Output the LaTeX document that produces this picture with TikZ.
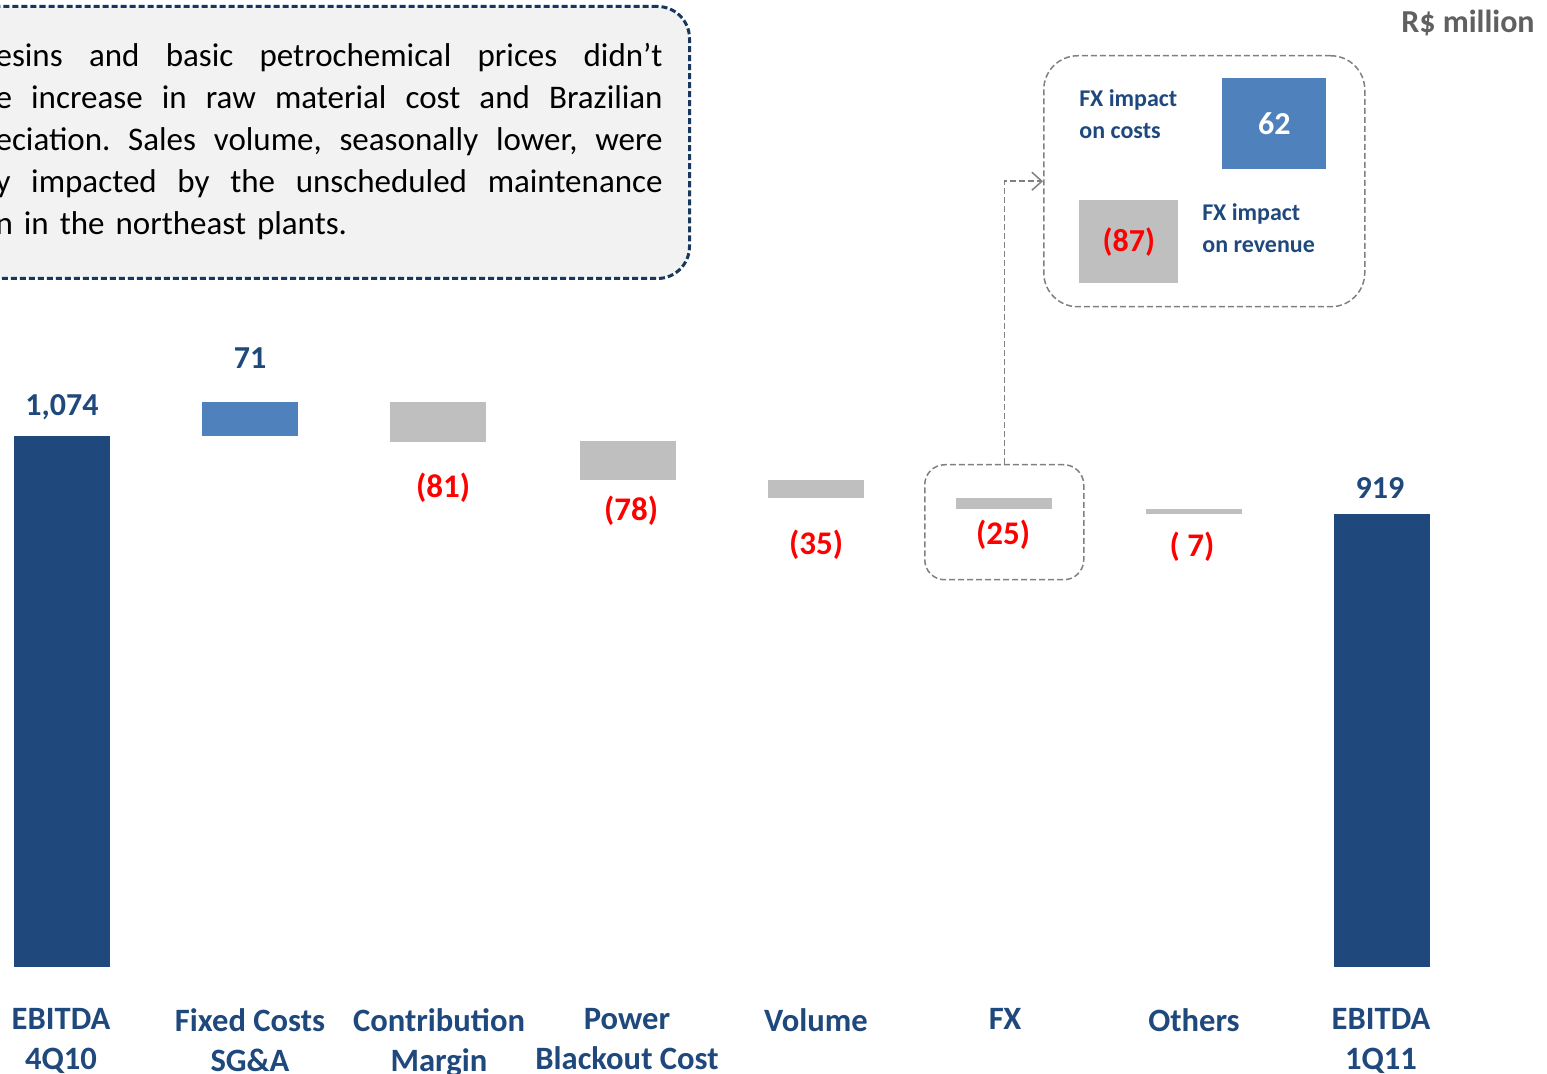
\documentclass[tikz,border=0pt]{standalone}
\usepackage{fontspec}
\setmainfont{Carlito}
\usepackage{xcolor}
\usetikzlibrary{arrows.meta,positioning}

\definecolor{navybar}{RGB}{31,73,125}
\definecolor{lightbar}{RGB}{79,129,189}
\definecolor{greybar}{RGB}{191,191,191}
\definecolor{notefill}{RGB}{242,242,242}
\definecolor{noteline}{RGB}{23,55,94}
\definecolor{dashgrey}{RGB}{128,128,128}
\definecolor{unitgrey}{RGB}{96,96,96}

\newcommand{\fullline}[1]{\hbox to 333.5pt{\frenchspacing\spaceskip=0.226em plus 1fil\relax #1}}

\begin{document}
\begin{tikzpicture}[x=0.5pt, y=-0.5pt,
  bar/.style={minimum width=48pt, inner sep=0, anchor=north west},
  posval/.style={font=\bfseries\fontsize{16}{19}\selectfont, text=navybar},
  negval/.style={font=\bfseries\fontsize{16.5}{19}\selectfont, text=red},
  catlabel/.style={font=\bfseries\fontsize{16.3}{20}\selectfont, text=navybar, align=center, anchor=north, inner sep=0},
  greybox/.style={draw=dashgrey, dashed, dash pattern=on 3pt off 1.5pt, line width=0.75pt, inner sep=0, anchor=north west},
  fxtext/.style={font=\bfseries\fontsize{12}{16}\selectfont, text=navybar, align=left, anchor=north west, inner sep=0}]
\useasboundingbox (0,0) rectangle (1547,1074);
%note box, cut at the left edge
\node[draw=noteline, fill=notefill, line width=1.5pt, dash pattern=on 3pt off 1.5pt, rounded corners=16pt,
  minimum width=364pt, minimum height=136pt, inner sep=0, anchor=north west] (note) at (-40,5) {};
\node[text width=333.5pt, inner sep=0, anchor=north east, font=\fontsize{16.5}{21}\selectfont] (notetext) at (663,43)
  {\fullline{esins and basic petrochemical prices didn’t}
   \fullline{e increase in raw material cost and Brazilian}
   \fullline{eciation. Sales volume, seasonally lower, were}
   \fullline{y impacted by the unscheduled maintenance}
   \hbox{n in the northeast plants.}};
\node[anchor=east, inner sep=0, text=unitgrey, font=\bfseries\fontsize{16}{19}\selectfont] (unit) at (1535,23) {R\$ million};
%bars
\node[bar, fill=navybar, minimum height=265.5pt] (b1) at (14,436) {};
\node[bar, fill=lightbar, minimum height=17pt] (b2) at (202,402) {};
\node[bar, fill=greybar, minimum height=20pt] (b3) at (390,402) {};
\node[bar, fill=greybar, minimum height=19.5pt] (b4) at (580,441) {};
\node[bar, fill=greybar, minimum height=9pt] (b5) at (768,480) {};
\node[bar, fill=greybar, minimum height=5.5pt] (b6) at (956,498) {};
\node[bar, fill=greybar, minimum height=2.5pt] (b7) at (1146,509) {};
\node[bar, fill=navybar, minimum height=226.5pt] (b8) at (1334,514) {};
%values
\node[posval] (v1) at (62,407) {1,074};
\node[posval] (v2) at (250,358) {71};
\node[negval] (v3) at (443,488) {(81)};
\node[negval] (v4) at (631,511) {(78)};
\node[negval] (v5) at (816,545) {(35)};
\node[negval] (v6) at (1003,535) {(25)};
\node[negval] (v7) at (1192,547) {( 7)};
\node[posval] (v8) at (1380,488) {919};
%categories
\node[catlabel] (c1) at (61,1008) {EBITDA\\4Q10};
\node[catlabel] (c2) at (250,1008) {Fixed Costs\\SG\&A};
\node[catlabel] (c3) at (439,1008) {Contribution\\Margin};
\node[catlabel] (c4) at (627,1008) {Power\\Blackout Cost};
\node[catlabel] (c5) at (816,1008) {Volume};
\node[catlabel] (c6) at (1005,1008) {FX};
\node[catlabel] (c7) at (1194,1008) {Others};
\node[catlabel] (c8) at (1381,1008) {EBITDA\\1Q11};
%FX detail
\node[greybox, rounded corners=10pt, minimum width=79.5pt, minimum height=57.5pt] (fxbox) at (924,464) {};
\node[greybox, rounded corners=17pt, minimum width=160.5pt, minimum height=125.5pt] (inset) at (1043,55) {};
\node[bar, fill=lightbar, minimum width=52pt, minimum height=45.5pt, text=white, font=\bfseries\fontsize{16}{19}\selectfont] (costs) at (1222,78) {62};
\node[bar, fill=greybar, minimum width=49.5pt, minimum height=41.5pt, text=red, font=\bfseries\fontsize{16}{19}\selectfont] (revenue) at (1079,200) {(87)};
\node[fxtext] (coststext) at (1079,89) {FX impact\\on costs};
\node[fxtext] (revtext) at (1202,203) {FX impact\\on revenue};
\draw[draw=dashgrey, dash pattern=on 3pt off 1.5pt, line width=0.75pt, -{Straight Barb[length=5pt, width=9pt]}] (fxbox.north) |- (inset.west);
\end{tikzpicture}
\end{document}
